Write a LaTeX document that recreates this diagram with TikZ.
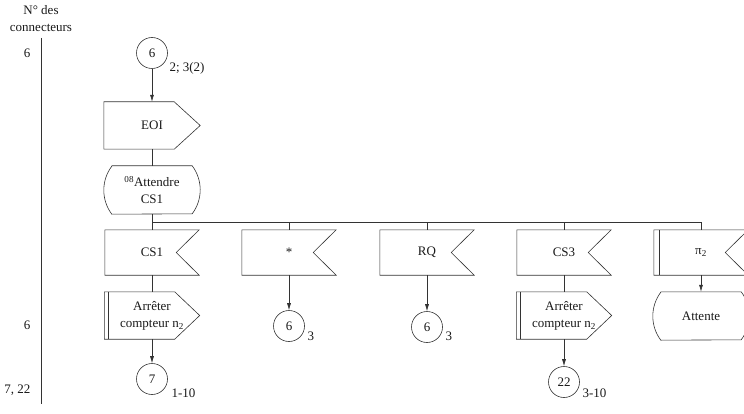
\documentclass[tikz,border=0pt]{standalone}
\usepackage{fontspec}
\setmainfont{Liberation Serif}
\usetikzlibrary{arrows.meta}

\begin{document}
\begin{tikzpicture}[x=1pt,y=1pt,
    every node/.style={font=\fontsize{13}{17}\selectfont,text=black!90},
    sigbox/.style={minimum width=94pt,minimum height=46pt,inner sep=0pt,align=center},
    statebox/.style={minimum width=96pt,minimum height=48pt,inner sep=0pt,align=center},
    conn/.style={circle,draw=black!80,line width=0.6pt,minimum size=31pt,inner sep=0pt},
    line/.style={line width=0.6pt,black!80},
    flow/.style={line,-{Latex[length=7pt,width=4pt]}}]
  \useasboundingbox (0,0) rectangle (744,413);
  % column of connector numbers
  \node[align=center] (hdr) at (41,394) {N° des\\connecteurs};
  \draw[line] (41,375) -- (41,9);
  \node[anchor=east] (n6a) at (34,360) {6};
  \node[anchor=east] (n6b) at (34,88) {6};
  \node[anchor=east] (n722) at (34,23) {7, 22};
  % start connector, EOI and state
  \node[conn] (c6) at (152,360) {6};
  \node[anchor=west] (c6l) at (166,345) {2; 3(2)};
  \node[sigbox,minimum width=96pt,minimum height=47pt] (eoi) at (152,287.5) {EOI};
  \draw[line] (eoi.north west) -- ([xshift=-26pt]eoi.north east) -- (eoi.east)
    -- ([xshift=-26pt]eoi.south east) -- (eoi.south west) -- cycle;
  \node[statebox] (att) at (152,223) {\textsuperscript{08}Attendre\\CS1};
  \draw[line] ([xshift=8pt]att.north west) -- ([xshift=-8pt]att.north east)
    arc[start angle=36.87,end angle=-36.87,radius=40pt]
    -- ([xshift=8pt]att.south west)
    arc[start angle=216.87,end angle=143.13,radius=40pt] -- cycle;
  \draw[flow] (c6) -- (eoi);
  \draw[line] (eoi) -- (att);
  % received signals
  \node[sigbox,minimum height=45pt] (cs1) at (152,160.5) {CS1};
  \node[sigbox,minimum height=45pt] (star) at (289,160.5) {*};
  \node[sigbox,minimum height=45pt] (rq) at (427,160.5) {RQ};
  \node[sigbox,minimum height=45pt] (cs3) at (564,160.5) {CS3};
  \node[sigbox,minimum height=45pt] (pi2) at (701,160.5) {π\textsubscript{2}};
  \foreach \s in {cs1,star,rq,cs3,pi2}
    \draw[line] (\s.north west) -- (\s.north east) -- ([xshift=-23pt]\s.east)
      -- (\s.south east) -- (\s.south west) -- cycle;
  \draw[line] ([xshift=5pt]pi2.north west) -- ([xshift=5pt]pi2.south west);
  \coordinate (bus) at (0,190.5);
  \draw[line] (att) -- (att |- bus) -- (pi2.north |- bus) -- (pi2);
  \foreach \s in {cs1,star,rq,cs3}
    \draw[line] (\s.north |- bus) -- (\s);
  % actions below the signals
  \node[sigbox,minimum width=95pt,minimum height=47pt] (stop1) at (152,97.5) {Arrêter\\compteur n\textsubscript{2}};
  \node[sigbox,minimum width=95pt,minimum height=47pt] (stop2) at (564,97.5) {Arrêter\\compteur n\textsubscript{2}};
  \foreach \s in {stop1,stop2} {
    \draw[line] (\s.north west) -- ([xshift=-25pt]\s.north east) -- (\s.east)
      -- ([xshift=-25pt]\s.south east) -- (\s.south west) -- cycle;
    \draw[line] ([xshift=4pt]\s.north west) -- ([xshift=4pt]\s.south west);
  }
  \node[statebox] (wait) at (701,97) {Attente};
  \draw[line] ([xshift=8pt]wait.north west) -- ([xshift=-8pt]wait.north east)
    arc[start angle=36.87,end angle=-36.87,radius=40pt]
    -- ([xshift=8pt]wait.south west)
    arc[start angle=216.87,end angle=143.13,radius=40pt] -- cycle;
  \draw[line] (cs1) -- (stop1);
  \draw[line] (cs3) -- (stop2);
  \draw[flow] (pi2) -- (wait);
  % end connectors
  \node[conn] (c7) at (152,34) {7};
  \node[anchor=west] (c7l) at (168,20) {1-10};
  \node[conn] (c6s) at (289,87) {6};
  \node[anchor=west] (c6sl) at (304,77) {3};
  \node[conn] (c6r) at (427,86) {6};
  \node[anchor=west] (c6rl) at (442,77) {3};
  \node[conn] (c22) at (564,31) {22};
  \node[anchor=west] (c22l) at (579,20) {3-10};
  \draw[flow] (stop1) -- (c7);
  \draw[flow] (star) -- (c6s);
  \draw[flow] (rq) -- (c6r);
  \draw[flow] (stop2) -- (c22);
\end{tikzpicture}
\end{document}
